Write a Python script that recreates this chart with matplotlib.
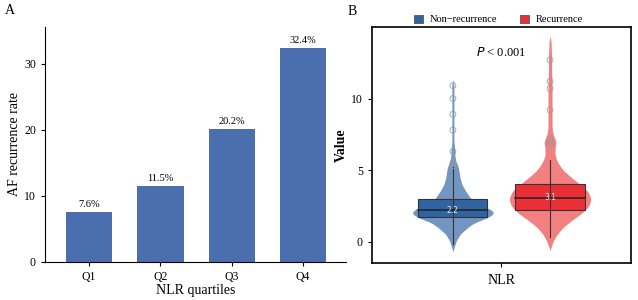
import numpy as np
import matplotlib
matplotlib.use('Agg')
import matplotlib.pyplot as plt
from matplotlib.patches import Patch

plt.rcParams['font.family'] = ['Liberation Serif', 'DejaVu Serif']

# panel A data
quartiles = ['Q1', 'Q2', 'Q3', 'Q4']
af_rate = [7.6, 11.5, 20.2, 32.4]

groups = ['Non\u2212recurrence', 'Recurrence']
box_q1 = [1.75, 2.2]
box_med = [2.2, 3.05]
box_q3 = [3.0, 4.0]
whisk_lo = [-0.2, 0.35]
whisk_hi = [5.2, 5.7]
med_labels = ['2.2', '3.1']
outliers_non = [5.3, 5.5, 6.3, 7.8, 8.9, 10.0, 10.9]
outliers_rec = [6.8, 7.0, 7.2, 9.2, 10.7, 11.2, 12.7]

# violin outlines: value levels and relative half-width
dens_y_non = [-0.7, 0.0, 0.5, 1.0, 1.3, 1.6, 1.8, 2.0, 2.2, 2.4, 2.7, 3.0, 3.5, 4.0, 4.5,
              5.0, 5.3, 5.6, 6.0, 6.3, 7.0, 8.0, 9.0, 10.0, 11.0, 11.3]
dens_w_non = [0, 3, 7, 15, 21, 32, 38, 41, 39, 33, 24, 18, 13, 9, 7,
              6, 5, 3, 2, 2, 1, 1, 1, 1, 1, 0]
dens_y_rec = [-0.6, 0.0, 0.5, 1.0, 1.5, 2.0, 2.5, 3.0, 3.5, 4.0, 4.5, 5.0, 5.5, 6.0,
              6.5, 7.0, 7.5, 8.0, 9.0, 10.0, 11.0, 12.0, 13.0, 14.0, 14.3]
dens_w_rec = [0, 3, 7, 13, 22, 32, 39, 41, 38, 30, 21, 13, 8, 5,
              5, 6, 3, 2, 2, 2, 2, 1.5, 1.5, 1, 0]

bar_color = '#4a6eae'
violin_colors = ['#5b83b8', '#f26a6a']
box_colors = ['#2f64a0', '#ea3036']

fig = plt.figure(figsize=(6.38, 3.0), dpi=100)

# ---- panel A
ax1 = fig.add_axes([0.0705, 0.127, 0.4715, 0.783])
x = np.arange(len(quartiles))
ax1.bar(x, af_rate, width=0.65, color=bar_color)
for xi, v in zip(x, af_rate):
    ax1.text(xi, v + 0.4, f'{v}%', ha='center', va='bottom', fontsize=7.5)
ax1.set_xlim(-0.62, 3.6)
ax1.set_ylim(0, 35.6)
ax1.set_yticks([0, 10, 20, 30])
ax1.set_xticks(x)
ax1.set_xticklabels(quartiles)
ax1.spines['top'].set_visible(False)
ax1.spines['right'].set_visible(False)
ax1.tick_params(labelsize=8.5, length=3)
ax1.set_ylabel('AF recurrence rate', fontsize=10, labelpad=2)
ax1.set_xlabel('NLR quartiles', fontsize=10, labelpad=1)
fig.text(0.008, 0.955, 'A', fontsize=10)

# ---- panel B
ax2 = fig.add_axes([0.583, 0.123, 0.406, 0.787])
pos = [1 - 0.225, 1 + 0.225]
max_half = 0.19
dens_y = [dens_y_non, dens_y_rec]
dens_w = [dens_w_non, dens_w_rec]
outs = [outliers_non, outliers_rec]
kern = np.ones(9) / 9
for i in range(2):
    # dense outline, lightly smoothed so the violin is rounded
    yy = np.linspace(dens_y[i][0], dens_y[i][-1], 400)
    ww = np.interp(yy, dens_y[i], dens_w[i])
    ww = np.convolve(np.pad(ww, 4, mode='edge'), kern, mode='valid')
    ww[0] = ww[-1] = 0
    ww = ww / 41.0 * max_half
    ax2.fill_betweenx(yy, pos[i] - ww, pos[i] + ww, color=violin_colors[i],
                      alpha=0.85, lw=0, zorder=1)
    ax2.plot([pos[i], pos[i]], [whisk_lo[i], whisk_hi[i]], color='#333333',
             lw=0.8, zorder=3)
    bw = 0.16
    ax2.add_patch(plt.Rectangle((pos[i] - bw, box_q1[i]), 2 * bw, box_q3[i] - box_q1[i],
                                facecolor=box_colors[i], edgecolor='#333333',
                                lw=0.8, zorder=2))
    ax2.plot([pos[i] - bw, pos[i] + bw], [box_med[i], box_med[i]], color='#222222',
             lw=1.1, zorder=4)
    ax2.text(pos[i], box_med[i], med_labels[i], color='#e8e8e8', fontsize=5.5,
             ha='center', va='center', family='DejaVu Sans', zorder=5)
    ax2.scatter([pos[i]] * len(outs[i]), outs[i], s=18, facecolors='none',
                edgecolors='#999999', linewidths=0.7, alpha=0.8, zorder=4)

ax2.set_xlim(0.4, 1.6)
ax2.set_ylim(-1.5, 15)
ax2.set_yticks([0, 5, 10])
ax2.set_xticks([1])
ax2.set_xticklabels(['NLR'])
ax2.tick_params(axis='y', labelsize=8.5, length=3)
ax2.tick_params(axis='x', labelsize=10, length=3, pad=5)
for s in ax2.spines.values():
    s.set_linewidth(1.2)
ax2.set_ylabel('Value', fontsize=10, fontweight='bold', labelpad=2)
ax2.text(1.0, 13.2, r'$P$ < 0.001', ha='center', va='center', fontsize=9)
fig.text(0.545, 0.95, 'B', fontsize=10)

handles = [Patch(facecolor=box_colors[0], edgecolor='#555555', lw=0.6),
           Patch(facecolor=box_colors[1], edgecolor='#555555', lw=0.6)]
fig.legend(handles, groups, loc='center', bbox_to_anchor=(0.781, 0.935), ncol=2,
           frameon=False, fontsize=7.5, handlelength=0.9, handleheight=0.9,
           columnspacing=2.2, handletextpad=0.6)

fig.savefig('out.png', dpi=100, facecolor='white')
